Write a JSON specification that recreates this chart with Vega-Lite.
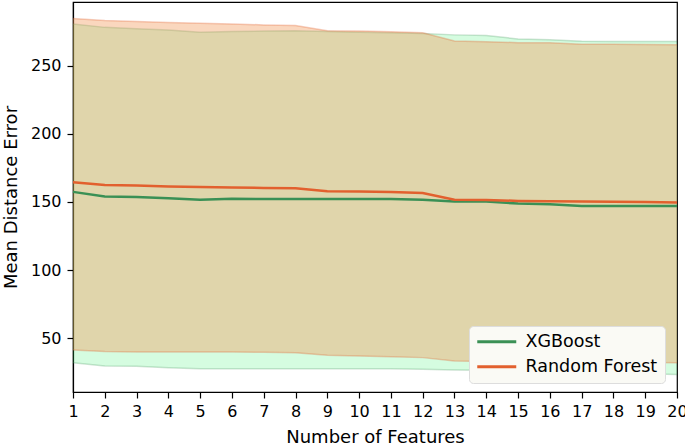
{
  "$schema": "https://vega.github.io/schema/vega-lite/v6.json",
  "width": 604,
  "height": 390,
  "autosize": "none",
  "padding": {"left": 73, "top": 2, "right": 8, "bottom": 54},
  "background": "white",
  "config": {
    "font": "DejaVu Sans",
    "view": {"stroke": "black", "strokeWidth": 1.2},
    "axis": {
      "domainColor": "black", "domainWidth": 1.2, "tickColor": "black", "tickWidth": 1.2, "tickSize": 6,
      "labelColor": "black", "titleColor": "black", "labelFontSize": 16, "titleFontSize": 18,
      "titleFontWeight": "normal", "grid": false, "labelFont": "DejaVu Sans", "titleFont": "DejaVu Sans"
    }
  },
  "data": {"values": [
    {"f": 1, "model": "XGBoost", "mean": 157.4, "lower": 32.2, "upper": 280.5},
    {"f": 2, "model": "XGBoost", "mean": 154.1, "lower": 29.7, "upper": 278},
    {"f": 3, "model": "XGBoost", "mean": 153.7, "lower": 29.5, "upper": 277},
    {"f": 4, "model": "XGBoost", "mean": 152.7, "lower": 28.5, "upper": 276},
    {"f": 5, "model": "XGBoost", "mean": 151.7, "lower": 27.8, "upper": 274.5},
    {"f": 6, "model": "XGBoost", "mean": 152.4, "lower": 27.8, "upper": 275},
    {"f": 7, "model": "XGBoost", "mean": 152.2, "lower": 27.8, "upper": 275.3},
    {"f": 8, "model": "XGBoost", "mean": 152.2, "lower": 27.8, "upper": 275.5},
    {"f": 9, "model": "XGBoost", "mean": 152.2, "lower": 27.8, "upper": 275},
    {"f": 10, "model": "XGBoost", "mean": 152.2, "lower": 27.8, "upper": 274.5},
    {"f": 11, "model": "XGBoost", "mean": 152.2, "lower": 27.8, "upper": 274},
    {"f": 12, "model": "XGBoost", "mean": 151.7, "lower": 27.3, "upper": 273.5},
    {"f": 13, "model": "XGBoost", "mean": 150.3, "lower": 26.8, "upper": 272.5},
    {"f": 14, "model": "XGBoost", "mean": 150.3, "lower": 26.6, "upper": 272},
    {"f": 15, "model": "XGBoost", "mean": 148.8, "lower": 26.2, "upper": 269.5},
    {"f": 16, "model": "XGBoost", "mean": 148.3, "lower": 25.6, "upper": 269},
    {"f": 17, "model": "XGBoost", "mean": 147.1, "lower": 25, "upper": 267.8},
    {"f": 18, "model": "XGBoost", "mean": 147.1, "lower": 24.5, "upper": 267.6},
    {"f": 19, "model": "XGBoost", "mean": 147.1, "lower": 24, "upper": 267.6},
    {"f": 20, "model": "XGBoost", "mean": 147.1, "lower": 23.6, "upper": 267.6},
    {"f": 1, "model": "Random Forest", "mean": 164.4, "lower": 41.4, "upper": 284.5},
    {"f": 2, "model": "Random Forest", "mean": 162.5, "lower": 40.3, "upper": 283},
    {"f": 3, "model": "Random Forest", "mean": 162, "lower": 40, "upper": 282.3},
    {"f": 4, "model": "Random Forest", "mean": 161.4, "lower": 40, "upper": 281.6},
    {"f": 5, "model": "Random Forest", "mean": 161, "lower": 40, "upper": 281},
    {"f": 6, "model": "Random Forest", "mean": 160.7, "lower": 40, "upper": 280.5},
    {"f": 7, "model": "Random Forest", "mean": 160.3, "lower": 39.8, "upper": 279.8},
    {"f": 8, "model": "Random Forest", "mean": 160, "lower": 39.5, "upper": 279.3},
    {"f": 9, "model": "Random Forest", "mean": 157.8, "lower": 37.6, "upper": 275.6},
    {"f": 10, "model": "Random Forest", "mean": 157.6, "lower": 37, "upper": 275.4},
    {"f": 11, "model": "Random Forest", "mean": 157.4, "lower": 36.6, "upper": 274.8},
    {"f": 12, "model": "Random Forest", "mean": 156.6, "lower": 35.9, "upper": 274},
    {"f": 13, "model": "Random Forest", "mean": 151.7, "lower": 33.4, "upper": 268},
    {"f": 14, "model": "Random Forest", "mean": 151.5, "lower": 33, "upper": 267.5},
    {"f": 15, "model": "Random Forest", "mean": 150.8, "lower": 32.8, "upper": 266.8},
    {"f": 16, "model": "Random Forest", "mean": 150.6, "lower": 32.6, "upper": 266.8},
    {"f": 17, "model": "Random Forest", "mean": 150.3, "lower": 32.5, "upper": 265.6},
    {"f": 18, "model": "Random Forest", "mean": 150.1, "lower": 32.4, "upper": 265.6},
    {"f": 19, "model": "Random Forest", "mean": 149.9, "lower": 32.3, "upper": 265.5},
    {"f": 20, "model": "Random Forest", "mean": 149.7, "lower": 32.2, "upper": 265.3}
  ]},
  "encoding": {
    "x": {"field": "f", "type": "quantitative", "scale": {"domain": [1, 20], "nice": false},
      "axis": {"values": [1,2,3,4,5,6,7,8,9,10,11,12,13,14,15,16,17,18,19,20], "title": "Number of Features", "labelPadding": 5, "titlePadding": 9, "labelFlush": false}}
  },
  "layer": [
    {
      "transform": [{"filter": "datum.model === 'XGBoost'"}],
      "mark": {"type": "area", "color": "#2df064", "opacity": 0.2},
      "encoding": {
        "y": {"field": "lower", "type": "quantitative", "scale": {"domain": [10.7, 296.6], "nice": false, "zero": false},
          "axis": {"values": [50, 100, 150, 200, 250], "title": "Mean Distance Error", "labelPadding": 6, "titlePadding": 10}},
        "y2": {"field": "upper"}
      }
    },
    {
      "transform": [{"filter": "datum.model === 'XGBoost'"}],
      "mark": {"type": "line", "color": "#3a9055", "opacity": 0.25, "strokeWidth": 1.5},
      "encoding": {"y": {"field": "lower", "type": "quantitative"}}
    },
    {
      "transform": [{"filter": "datum.model === 'XGBoost'"}],
      "mark": {"type": "line", "color": "#3a9055", "opacity": 0.25, "strokeWidth": 1.5},
      "encoding": {"y": {"field": "upper", "type": "quantitative"}}
    },
    {
      "transform": [{"filter": "datum.model === 'Random Forest'"}],
      "mark": {"type": "area", "color": "#f29654", "opacity": 0.38},
      "encoding": {
        "y": {"field": "lower", "type": "quantitative"},
        "y2": {"field": "upper"}
      }
    },
    {
      "transform": [{"filter": "datum.model === 'Random Forest'"}],
      "mark": {"type": "line", "color": "#e2602e", "opacity": 0.3, "strokeWidth": 1.5},
      "encoding": {"y": {"field": "lower", "type": "quantitative"}}
    },
    {
      "transform": [{"filter": "datum.model === 'Random Forest'"}],
      "mark": {"type": "line", "color": "#e2602e", "opacity": 0.3, "strokeWidth": 1.5},
      "encoding": {"y": {"field": "upper", "type": "quantitative"}}
    },
    {
      "mark": {"type": "line", "strokeWidth": 2.5},
      "encoding": {
        "y": {"field": "mean", "type": "quantitative"},
        "color": {"field": "model", "type": "nominal",
          "scale": {"domain": ["XGBoost", "Random Forest"], "range": ["#3a9055", "#e2602e"]},
          "legend": {"title": null, "orient": "none", "legendX": 396, "legendY": 324,
            "symbolType": "M-3,0H3", "symbolSize": 169, "symbolStrokeWidth": 3, "symbolOffset": 12,
            "labelFontSize": 17.5, "labelColor": "black", "labelFont": "DejaVu Sans",
            "fillColor": "#fafaf5", "strokeColor": "#dddddd", "cornerRadius": 4, "padding": 7,
            "rowPadding": 6, "labelOffset": 20}}
      }
    }
  ]
}
